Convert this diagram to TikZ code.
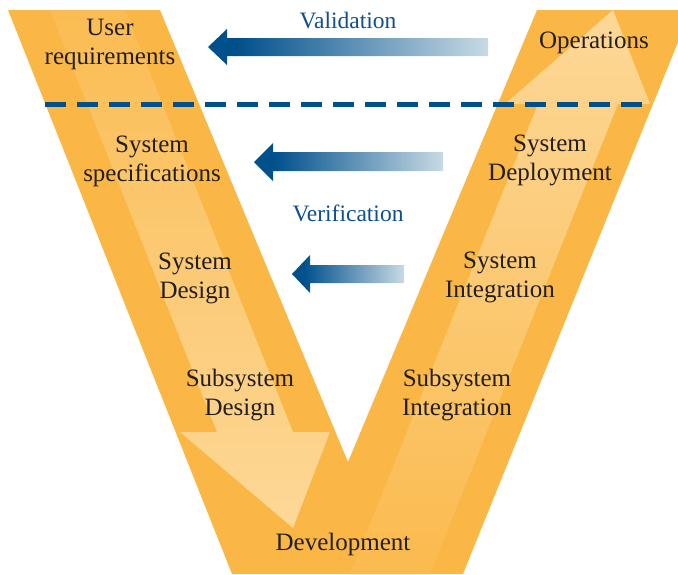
\documentclass[tikz,border=0pt]{standalone}
\usepackage{fontspec}
\setmainfont{Liberation Serif}
\definecolor{vorange}{HTML}{FAB746}
\definecolor{peach}{HTML}{FDD898}
\definecolor{peachmid}{HTML}{FCCB7A}
\definecolor{arrowblue}{HTML}{00508C}
\definecolor{paleblue}{HTML}{C8DAE4}
\definecolor{labelblue}{HTML}{0F4F8B}
\definecolor{ink}{HTML}{231F20}
\pgfdeclarehorizontalshading{bluefade}{100bp}{color(0bp)=(arrowblue); color(25bp)=(arrowblue); color(30bp)=(arrowblue); color(75bp)=(paleblue); color(100bp)=(paleblue)}
\tikzset{
  stage/.style={font=\fontsize{25}{28.5}\selectfont, text=ink, align=center, inner sep=0pt, anchor=base},
  phase/.style={font=\fontsize{23.5}{26}\selectfont, text=labelblue, inner sep=0pt, anchor=base},
  bluearrow/.style={shading=bluefade},
  divider/.style={draw=arrowblue, line width=5pt, dash pattern=on 21pt off 11pt}
}
\begin{document}
\begin{tikzpicture}[x=1pt,y=-1pt]
\useasboundingbox (0,0) rectangle (678,574);
\begin{scope}
  \clip (0,0) rectangle (678,574);
  % the V
  \fill[vorange] (8,10) -- (160,10) -- (348,462) -- (537,10) -- (691,10)
    -- (463,574) -- (232,574) -- cycle;
  % downward arrow along the left arm
  \shade[top color=vorange!85!peach, middle color=peachmid, bottom color=peach]
    (50,10) -- (125,10) -- (293,432) -- (330,432) -- (293,528)
    -- (180,432) -- (217,432) -- cycle;
  % upward arrow along the right arm
  \shade[top color=peach, middle color=vorange!55!peach, bottom color=vorange!90!peach]
    (613,10) -- (650,104) -- (618,104) -- (430,574) -- (350,574)
    -- (538,104) -- (505,104) -- cycle;
\end{scope}
% validation / verification arrows
\shade[bluearrow] (208,47) -- (227,29) -- (227,38) -- (488,38) -- (488,56)
  -- (227,56) -- (227,65) -- cycle;
\shade[bluearrow] (254,162) -- (273,143) -- (273,152) -- (443,152) -- (443,171)
  -- (273,171) -- (273,181) -- cycle;
\shade[bluearrow] (292,274) -- (310,255) -- (310,265) -- (404,265) -- (404,283)
  -- (310,283) -- (310,293) -- cycle;
% dividing line
\coordinate (dl) at (45,104);
\coordinate (dr) at (643,104);
\draw[divider] (dl) -- (dr);
% labels (two-line nodes are placed by the baseline of their last line)
\node[phase] (val) at (348,28) {Validation};
\node[phase] (ver) at (348,221) {Verification};
\node[stage] (ureq) at (110,64) {User\\requirements};
\node[stage] (ops) at (594,48) {Operations};
\node[stage] (sspec) at (152,181) {System\\specifications};
\node[stage] (sdep) at (550,180) {System\\Deployment};
\node[stage] (sdes) at (195,298) {System\\Design};
\node[stage] (sint) at (500,297) {System\\Integration};
\node[stage] (ssdes) at (240,415) {Subsystem\\Design};
\node[stage] (ssint) at (457,415) {Subsystem\\Integration};
\node[stage] (dev) at (343,550) {Development};
\end{tikzpicture}
\end{document}
